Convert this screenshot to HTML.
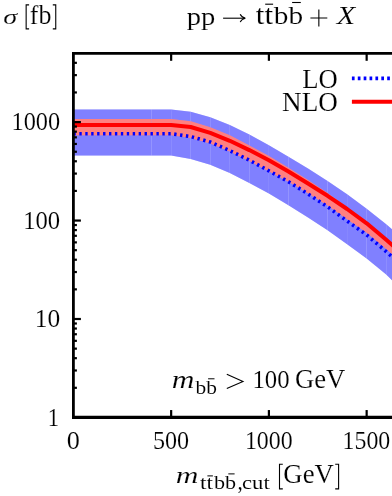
<!DOCTYPE html>
<html><head><meta charset="utf-8"><style>
html,body{margin:0;padding:0;background:#fff;}
body{width:392px;height:496px;overflow:hidden;}
svg{display:block;will-change:transform;}
text{font-family:"Liberation Serif",serif;fill:#000;stroke:#fff;}
</style></head><body>
<svg width="392" height="496" viewBox="0 0 392 496">
<rect width="392" height="496" fill="#fff"/>
<polygon points="73.40,109.40 92.95,109.40 112.50,109.40 132.05,109.40 151.60,109.40 171.15,109.40 190.70,111.80 210.25,117.30 229.80,124.90 249.35,134.60 268.90,145.25 288.45,156.70 308.00,168.50 327.55,181.00 347.10,194.30 366.65,208.80 386.20,224.30 405.75,240.80 405.75,293.50 386.20,274.60 366.65,258.60 347.10,244.20 327.55,230.30 308.00,217.50 288.45,205.30 268.90,193.60 249.35,182.90 229.80,173.00 210.25,164.80 190.70,158.90 171.15,155.60 151.60,155.60 132.05,155.60 112.50,155.60 92.95,155.60 73.40,155.60" fill="#8080ff" fill-opacity="0.35"/>
<polygon points="73.40,109.40 151.60,109.40 151.60,155.60 73.40,155.60" fill="#8080ff"/>
<polygon points="151.60,109.40 171.15,109.40 171.15,155.60 151.60,155.60" fill="#8080ff"/>
<polygon points="171.15,109.40 190.70,111.80 190.70,158.90 171.15,155.60" fill="#8080ff"/>
<polygon points="190.70,111.80 210.25,117.30 210.25,164.80 190.70,158.90" fill="#8080ff"/>
<polygon points="210.25,117.30 229.80,124.90 229.80,173.00 210.25,164.80" fill="#8080ff"/>
<polygon points="229.80,124.90 249.35,134.60 249.35,182.90 229.80,173.00" fill="#8080ff"/>
<polygon points="249.35,134.60 268.90,145.25 268.90,193.60 249.35,182.90" fill="#8080ff"/>
<polygon points="268.90,145.25 288.45,156.70 288.45,205.30 268.90,193.60" fill="#8080ff"/>
<polygon points="288.45,156.70 308.00,168.50 308.00,217.50 288.45,205.30" fill="#8080ff"/>
<polygon points="308.00,168.50 327.55,181.00 327.55,230.30 308.00,217.50" fill="#8080ff"/>
<polygon points="327.55,181.00 347.10,194.30 347.10,244.20 327.55,230.30" fill="#8080ff"/>
<polygon points="347.10,194.30 366.65,208.80 366.65,258.60 347.10,244.20" fill="#8080ff"/>
<polygon points="366.65,208.80 386.20,224.30 386.20,274.60 366.65,258.60" fill="#8080ff"/>
<polygon points="386.20,224.30 405.75,240.80 405.75,293.50 386.20,274.60" fill="#8080ff"/>
<polygon points="73.40,119.00 92.95,119.00 112.50,119.00 132.05,119.00 151.60,119.00 171.15,119.00 190.70,121.30 210.25,127.20 229.80,135.20 249.35,145.60 268.90,156.00 288.45,167.70 308.00,180.00 327.55,193.00 347.10,207.50 366.65,222.30 386.20,238.80 405.75,255.80 405.75,266.00 386.20,249.00 366.65,232.70 347.10,219.20 327.55,205.50 308.00,193.30 288.45,181.70 268.90,171.30 249.35,161.00 229.80,151.60 210.25,143.40 190.70,138.10 171.15,135.20 151.60,135.20 132.05,135.20 112.50,135.20 92.95,135.20 73.40,135.20" fill="#ff8080" fill-opacity="0.35"/>
<polygon points="73.40,119.00 151.60,119.00 151.60,135.20 73.40,135.20" fill="#ff8080"/>
<polygon points="151.60,119.00 171.15,119.00 171.15,135.20 151.60,135.20" fill="#ff8080"/>
<polygon points="171.15,119.00 190.70,121.30 190.70,138.10 171.15,135.20" fill="#ff8080"/>
<polygon points="190.70,121.30 210.25,127.20 210.25,143.40 190.70,138.10" fill="#ff8080"/>
<polygon points="210.25,127.20 229.80,135.20 229.80,151.60 210.25,143.40" fill="#ff8080"/>
<polygon points="229.80,135.20 249.35,145.60 249.35,161.00 229.80,151.60" fill="#ff8080"/>
<polygon points="249.35,145.60 268.90,156.00 268.90,171.30 249.35,161.00" fill="#ff8080"/>
<polygon points="268.90,156.00 288.45,167.70 288.45,181.70 268.90,171.30" fill="#ff8080"/>
<polygon points="288.45,167.70 308.00,180.00 308.00,193.30 288.45,181.70" fill="#ff8080"/>
<polygon points="308.00,180.00 327.55,193.00 327.55,205.50 308.00,193.30" fill="#ff8080"/>
<polygon points="327.55,193.00 347.10,207.50 347.10,219.20 327.55,205.50" fill="#ff8080"/>
<polygon points="347.10,207.50 366.65,222.30 366.65,232.70 347.10,219.20" fill="#ff8080"/>
<polygon points="366.65,222.30 386.20,238.80 386.20,249.00 366.65,232.70" fill="#ff8080"/>
<polygon points="386.20,238.80 405.75,255.80 405.75,266.00 386.20,249.00" fill="#ff8080"/>
<polyline points="73.40,125.00 92.95,125.00 112.50,125.00 132.05,125.00 151.60,125.00 171.15,125.00 190.70,127.00 210.25,132.90 229.80,140.80 249.35,150.10 268.90,160.30 288.45,171.50 308.00,183.50 327.55,195.80 347.10,209.00 366.65,223.30 386.20,239.80 405.75,256.80" fill="none" stroke="#ff0000" stroke-width="4" stroke-linejoin="round"/>
<!-- axes -->
<polyline points="73.40,133.70 92.95,133.70 112.50,133.70 132.05,133.70 151.60,133.70 171.15,133.70 190.70,136.60 210.25,142.00 229.80,150.60 249.35,160.20 268.90,170.90 288.45,181.70 308.00,193.90 327.55,206.80 347.10,221.00 366.65,234.90 386.20,251.60 405.75,268.90" fill="none" stroke="#0000ff" stroke-width="3.6" stroke-dasharray="2.4 3.53"/>
<g stroke="#000" fill="none">
<path d="M72.0,53.35 H393" stroke-width="2.6"/>
<path d="M73.4,53.4 V417.45" stroke-width="2.8"/>
<path d="M72.0,417.4 H393" stroke-width="3.1"/>
</g>
<g stroke="#000" stroke-width="2.2">
<line x1="73.4" y1="387.81" x2="76.9" y2="387.81"/>
<line x1="73.4" y1="370.48" x2="76.9" y2="370.48"/>
<line x1="73.4" y1="358.18" x2="76.9" y2="358.18"/>
<line x1="73.4" y1="348.64" x2="76.9" y2="348.64"/>
<line x1="73.4" y1="340.84" x2="76.9" y2="340.84"/>
<line x1="73.4" y1="334.25" x2="76.9" y2="334.25"/>
<line x1="73.4" y1="328.54" x2="76.9" y2="328.54"/>
<line x1="73.4" y1="323.50" x2="76.9" y2="323.50"/>
<line x1="73.4" y1="319.00" x2="80.9" y2="319.00"/>
<line x1="73.4" y1="289.36" x2="76.9" y2="289.36"/>
<line x1="73.4" y1="272.03" x2="76.9" y2="272.03"/>
<line x1="73.4" y1="259.73" x2="76.9" y2="259.73"/>
<line x1="73.4" y1="250.19" x2="76.9" y2="250.19"/>
<line x1="73.4" y1="242.39" x2="76.9" y2="242.39"/>
<line x1="73.4" y1="235.80" x2="76.9" y2="235.80"/>
<line x1="73.4" y1="230.09" x2="76.9" y2="230.09"/>
<line x1="73.4" y1="225.05" x2="76.9" y2="225.05"/>
<line x1="73.4" y1="220.55" x2="80.9" y2="220.55"/>
<line x1="73.4" y1="190.91" x2="76.9" y2="190.91"/>
<line x1="73.4" y1="173.58" x2="76.9" y2="173.58"/>
<line x1="73.4" y1="161.28" x2="76.9" y2="161.28"/>
<line x1="73.4" y1="151.74" x2="76.9" y2="151.74"/>
<line x1="73.4" y1="143.94" x2="76.9" y2="143.94"/>
<line x1="73.4" y1="137.35" x2="76.9" y2="137.35"/>
<line x1="73.4" y1="131.64" x2="76.9" y2="131.64"/>
<line x1="73.4" y1="126.60" x2="76.9" y2="126.60"/>
<line x1="73.4" y1="122.10" x2="80.9" y2="122.10"/>
<line x1="73.4" y1="92.46" x2="76.9" y2="92.46"/>
<line x1="73.4" y1="75.13" x2="76.9" y2="75.13"/>
<line x1="73.4" y1="62.83" x2="76.9" y2="62.83"/>
<line x1="171.15" y1="417.45" x2="171.15" y2="410.05"/>
<line x1="171.15" y1="53.4" x2="171.15" y2="60.8"/>
<line x1="268.90" y1="417.45" x2="268.90" y2="410.05"/>
<line x1="268.90" y1="53.4" x2="268.90" y2="60.8"/>
<line x1="366.65" y1="417.45" x2="366.65" y2="410.05"/>
<line x1="366.65" y1="53.4" x2="366.65" y2="60.8"/>
</g>
<!-- legend -->
<line x1="351.9" y1="78.4" x2="393" y2="78.4" stroke="#0000ff" stroke-width="3.6" stroke-dasharray="2.7 3.18"/>
<line x1="351.9" y1="101.85" x2="393" y2="101.85" stroke="#ff0000" stroke-width="4"/>
<!-- text -->
<text transform="matrix(0.28333,0,0,0.21981,3.158,23.855)" font-size="100" font-style="italic" stroke-width="0.60">σ</text>
<text transform="matrix(0.25938,0,0,0.27014,29.747,23.705)" font-size="100" stroke-width="0.57">fb</text>
<text transform="matrix(0.28594,0,0,0.25435,186.639,24.734)" font-size="100" stroke-width="0.56">pp</text>
<text transform="matrix(0.31103,0,0,0.26842,255.825,23.707)" font-size="100" stroke-width="0.52">tt</text>
<text transform="matrix(0.29330,0,0,0.25929,273.825,23.716)" font-size="100" stroke-width="0.54">bb</text>
<text transform="matrix(0.30217,0,0,0.25682,336.834,23.718)" font-size="100" font-style="italic" stroke-width="0.54">X</text>
<text transform="matrix(0.26662,0,0,0.27574,302.292,87.524)" font-size="100" stroke-width="0.55">LO</text>
<text transform="matrix(0.27134,0,0,0.27721,282.082,111.221)" font-size="100" stroke-width="0.55">NLO</text>
<text transform="matrix(0.24365,0,0,0.24926,11.476,130.176)" font-size="100" stroke-width="0.61">1000</text>
<text transform="matrix(0.24712,0,0,0.25074,23.148,228.874)" font-size="100" stroke-width="0.60">100</text>
<text transform="matrix(0.25449,0,0,0.25074,34.789,327.174)" font-size="100" stroke-width="0.59">10</text>
<text transform="matrix(0.22639,0,0,0.24924,47.714,426.175)" font-size="100" stroke-width="0.63">1</text>
<text transform="matrix(0.26250,0,0,0.25221,66.737,449.471)" font-size="100" stroke-width="0.58">0</text>
<text transform="matrix(0.24120,0,0,0.25221,153.019,449.471)" font-size="100" stroke-width="0.61">500</text>
<text transform="matrix(0.23889,0,0,0.25221,244.914,449.471)" font-size="100" stroke-width="0.61">1000</text>
<text transform="matrix(0.23862,0,0,0.25221,342.566,449.471)" font-size="100" stroke-width="0.61">1500</text>
<text transform="matrix(0.31439,0,0,0.24896,171.682,387.926)" font-size="100" font-style="italic" stroke-width="0.53">m</text>
<text transform="matrix(0.21423,0,0,0.19257,195.460,393.847)" font-size="100" stroke-width="0.39">bb</text>
<text transform="matrix(0.24784,0,0,0.25368,252.442,387.568)" font-size="100" stroke-width="0.60">100</text>
<text transform="matrix(0.26625,0,0,0.27279,294.960,387.729)" font-size="100" stroke-width="0.56">GeV</text>
<text transform="matrix(0.31439,0,0,0.24062,175.682,482.734)" font-size="100" font-style="italic" stroke-width="0.54">m</text>
<text transform="matrix(0.23269,0,0,0.18211,199.960,488.858)" font-size="100" stroke-width="0.39">tt</text>
<text transform="matrix(0.22144,0,0,0.18400,214.060,488.856)" font-size="100" stroke-width="0.39">bb</text>
<text transform="matrix(0.21125,0,0,0.23000,237.526,488.560)" font-size="100" stroke-width="0.36">,</text>
<text transform="matrix(0.22683,0,0,0.18561,241.980,489.054)" font-size="100" stroke-width="0.39">cut</text>
<text transform="matrix(0.26733,0,0,0.27868,283.356,483.118)" font-size="100" stroke-width="0.55">GeV</text>
<!-- brackets, arrows, bars, operators -->
<g stroke="#000" fill="none" stroke-width="1.1">
<path d="M29.1,4.85 H26.15 V28.85 H29.1"/>
<path d="M52.8,4.85 H55.75 V28.85 H52.8"/>
<path d="M282.8,464.25 H279.5 V488.85 H282.8"/>
<path d="M335.2,464.25 H338.6 V488.85 H335.2"/>
<!-- arrow -->
<path d="M223.1,18.2 H244.8"/>
<path d="M240.2,14.3 C241.2,16.6 243.2,17.8 245.4,18.2 C243.2,18.6 241.2,19.8 240.2,22.1"/>
<!-- plus -->
<path d="M310.4,18.0 H327.3 M318.85,9.5 V26.5"/>
<!-- greater -->
<path d="M226.8,374.2 L243.0,381.4 L226.8,388.6"/>
<!-- bars -->
<path d="M265.2,4.2 H273.1"/>
<path d="M292.1,2.5 H300.8"/>
<path d="M208.1,378.8 H214.5" stroke-width="1"/>
<path d="M207.4,475.9 H212.9" stroke-width="1"/>
<path d="M228.3,473.9 H234.6" stroke-width="1"/>
</g>
</svg>
</body></html>
